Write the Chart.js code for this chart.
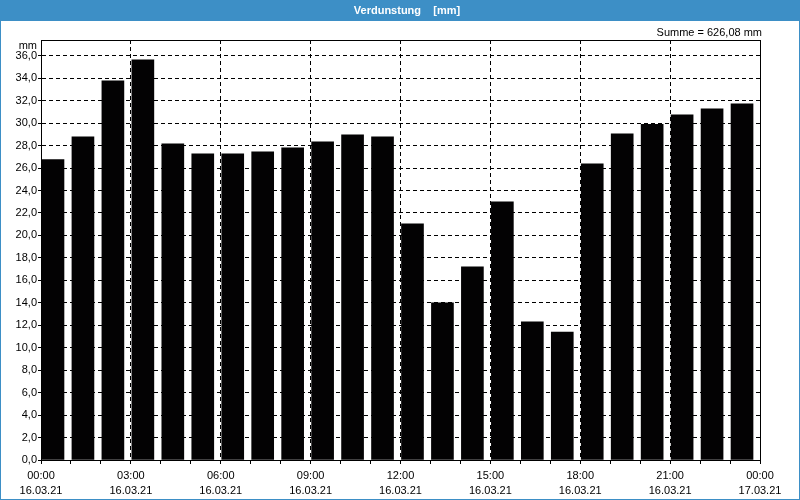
<!DOCTYPE html>
<html>
<head>
<meta charset="utf-8">
<script src="https://cdn.jsdelivr.net/npm/chart.js@4.4.0/dist/chart.umd.min.js"></script>
<style>
  body { margin: 0; background: #fff; }
  #wrap { width: 800px; height: 500px; }
</style>
</head>
<body>
<div id="wrap"><canvas id="evapChart" width="800" height="500"></canvas></div>
<script>
// hourly evaporation, 16.03.21
const hours = ['00:00','01:00','02:00','03:00','04:00','05:00','06:00','07:00','08:00','09:00','10:00','11:00',
               '12:00','13:00','14:00','15:00','16:00','17:00','18:00','19:00','20:00','21:00','22:00','23:00'];
const values = [26.75, 28.78, 33.76, 35.63, 28.16, 27.27, 27.27, 27.45, 27.80, 28.33, 28.96, 28.78,
                21.03, 14.00, 17.20, 22.99, 12.30, 11.40, 26.37, 29.04, 29.88, 30.74, 31.27, 31.72];
const tickLabels = [['00:00','16.03.21'], ['03:00','16.03.21'], ['06:00','16.03.21'], ['09:00','16.03.21'],
                    ['12:00','16.03.21'], ['15:00','16.03.21'], ['18:00','16.03.21'], ['21:00','16.03.21'],
                    ['00:00','17.03.21']];
const chartTitle = 'Verdunstung    [mm]';
const sumText = 'Summe = 626,08 mm';
const unitText = 'mm';

const FONT = '"Liberation Sans", Arial, sans-serif';
const BLUE = '#3d8fc6';
const barShift = 0.4; // bars start at the hour mark

const decor = {
  id: 'decor',
  beforeDraw(chart) {
    const c = chart.ctx;
    c.save();
    c.fillStyle = '#fff';
    c.fillRect(0, 0, 800, 500);
    c.fillStyle = BLUE;
    c.fillRect(0, 0, 800, 21);
    c.strokeStyle = BLUE;
    c.lineWidth = 1;
    c.strokeRect(0.5, 0.5, 799, 499);
    c.fillStyle = '#fff';
    c.font = 'bold 11px ' + FONT;
    c.textAlign = 'center';
    c.textBaseline = 'middle';
    c.fillText(chartTitle, 407, 11);
    c.fillStyle = '#000';
    c.font = '11px ' + FONT;
    c.textAlign = 'right';
    c.fillText(sumText, 762, 33);
    c.fillText(unitText, 37, 46);
    c.restore();
  },
  afterDraw(chart) {
    const a = chart.chartArea, c = chart.ctx;
    c.save();
    c.strokeStyle = '#000';
    c.lineWidth = 1;
    c.strokeRect(Math.round(a.left) + 0.5, Math.round(a.top) + 0.5,
                 Math.round(a.right - a.left), Math.round(a.bottom - a.top));
    c.restore();
  }
};

new Chart(document.getElementById('evapChart'), {
  type: 'bar',
  data: {
    datasets: [{
      label: 'Verdunstung',
      data: values.map((v, i) => ({ x: i + barShift, y: v })),
      backgroundColor: '#030203',
      barThickness: 22
    }]
  },
  options: {
    responsive: false,
    animation: false,
    layout: { padding: { top: 40, right: 40, left: 0, bottom: 0 } },
    plugins: { legend: { display: false }, tooltip: { enabled: false } },
    scales: {
      x: {
        type: 'linear',
        min: 0, max: 24,
        offset: false,
        afterFit: s => { s.height = 40; },
        grid: {
          offset: false,
          color: ctx => (ctx.tick && ctx.tick.value % 3 === 0) ? '#000' : 'rgba(0,0,0,0)',
          tickColor: '#000',
          tickLength: 4,
          tickBorderDash: [1, 0]
        },
        border: { display: true, color: '#000', dash: [4, 3] },
        ticks: {
          stepSize: 1,
          autoSkip: false,
          maxRotation: 0,
          padding: 4,
          color: '#000',
          font: { family: FONT, size: 11, lineHeight: 1.4 },
          callback: v => v % 3 === 0 ? tickLabels[v / 3] : ''
        }
      },
      y: {
        min: 0, max: 37.4,
        afterFit: s => { s.width = 41; },
        grid: { color: '#000', tickColor: '#000', tickLength: 3, tickBorderDash: [1, 0] },
        border: { display: true, color: '#000', dash: [4, 3] },
        ticks: {
          stepSize: 2,
          includeBounds: false,
          padding: 1,
          color: '#000',
          font: { family: FONT, size: 11 },
          callback: v => v.toFixed(1).replace('.', ',')
        }
      }
    }
  },
  plugins: [decor]
});
</script>
</body>
</html>
